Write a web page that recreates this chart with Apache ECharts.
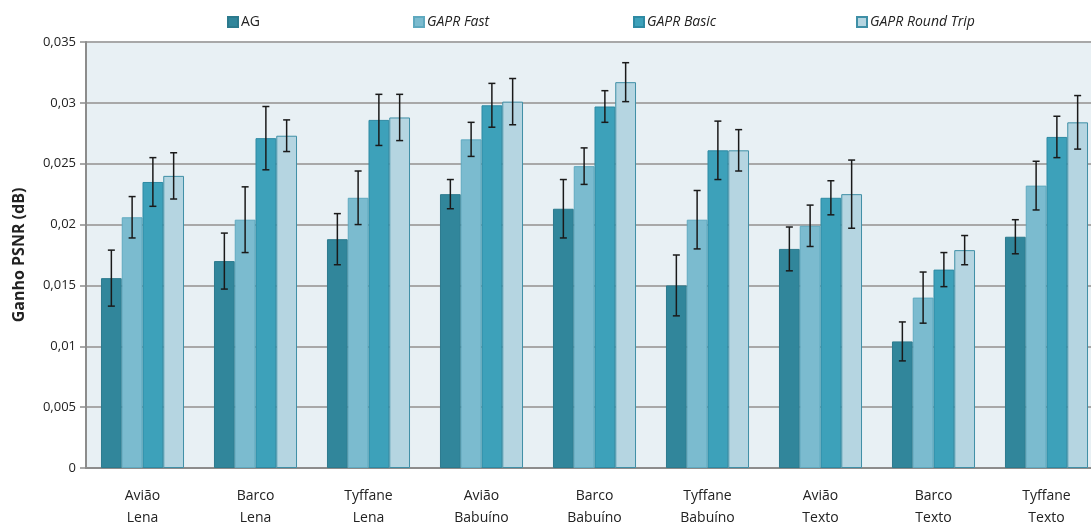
<!DOCTYPE html>
<html><head><meta charset="utf-8">
<script src="https://cdn.jsdelivr.net/npm/echarts@6/dist/echarts.min.js"></script>
<style>html,body{margin:0;padding:0;background:#fff}#c{width:1091px;height:525px}</style>
</head><body><div id="c"></div>
<script>
const categories = ["Avião\nLena","Barco\nLena","Tyffane\nLena","Avião\nBabuíno","Barco\nBabuíno","Tyffane\nBabuíno","Avião\nTexto","Barco\nTexto","Tyffane\nTexto"];
const seriesNames = ["AG","GAPR Fast","GAPR Basic","GAPR Round Trip"];
const agValues    = [0.0156,0.0170,0.0188,0.0225,0.0213,0.0150,0.0180,0.0104,0.0190];
const fastValues  = [0.0206,0.0204,0.0222,0.0270,0.0248,0.0204,0.0199,0.0140,0.0232];
const basicValues = [0.0235,0.0271,0.0286,0.0298,0.0297,0.0261,0.0222,0.0163,0.0272];
const rtValues    = [0.0240,0.0273,0.0288,0.0301,0.0317,0.0261,0.0225,0.0179,0.0284];
const agErr    = [0.0023,0.0023,0.0021,0.0012,0.0024,0.0025,0.0018,0.0016,0.0014];
const fastErr  = [0.0017,0.0027,0.0022,0.0014,0.0015,0.0024,0.0017,0.0021,0.0020];
const basicErr = [0.0020,0.0026,0.0021,0.0018,0.0013,0.0024,0.0014,0.0014,0.0017];
const rtErr    = [0.0019,0.0013,0.0019,0.0019,0.0016,0.0017,0.0028,0.0012,0.0022];
const yTicks = [0,0.005,0.01,0.015,0.02,0.025,0.03,0.035];

const values = [agValues, fastValues, basicValues, rtValues];
const errs = [agErr, fastErr, basicErr, rtErr];
const colors = ['#31869B','#7BBBCF','#3DA1BA','#B5D5E1'];
const borders = ['#2C7A8D','#5FA9BF','#2E8AA3','#3F8FA6'];
const CAT_GAP = 0.265;

const chart = echarts.init(document.getElementById('c'), null, {renderer:'canvas'});
const series = [];
values.forEach((vals, k) => {
  series.push({
    name: seriesNames[k], type: 'bar', data: vals,
    barGap: '0%', barCategoryGap: (CAT_GAP*100)+'%',
    itemStyle: {color: colors[k], borderColor: borders[k], borderWidth: 1},
    z: 2
  });
});
values.forEach((vals, k) => {
  series.push({
    type: 'custom', name: seriesNames[k] + ' err', z: 5, silent: true,
    data: vals.map((v, i) => [i, v - errs[k][i], v + errs[k][i]]),
    renderItem: function (params, api) {
      const i = api.value(0);
      const lo = api.coord([i, api.value(1)]);
      const hi = api.coord([i, api.value(2)]);
      const catW = api.size([1, 0])[0];
      const bw = catW * (1 - CAT_GAP) / 4;
      const x = lo[0] + (k - 1.5) * bw;
      const cap = 3.5;
      const st = {stroke: '#1a1a1a', lineWidth: 1.5};
      return {type: 'group', children: [
        {type: 'line', shape: {x1: x, y1: hi[1], x2: x, y2: lo[1]}, style: st},
        {type: 'line', shape: {x1: x - cap, y1: hi[1], x2: x + cap, y2: hi[1]}, style: st},
        {type: 'line', shape: {x1: x - cap, y1: lo[1], x2: x + cap, y2: lo[1]}, style: st}
      ]};
    }
  });
});

const legendLefts = [222, 408, 628, 851];
const legends = seriesNames.map((n, k) => ({
  data: [n], left: legendLefts[k], top: 10, itemWidth: 10, itemHeight: 10, itemGap: 0,
  icon: 'rect', selectedMode: false,
  textStyle: {fontFamily: 'Open Sans', fontSize: 14, color: '#222', fontStyle: k === 0 ? 'normal' : 'italic', padding: [0,0,0,-2]}
}));

chart.setOption({
  animation: false,
  legend: legends,
  grid: {left: 86, top: 42, width: 1017, height: 426, show: true, backgroundColor: '#E8F0F4', borderWidth: 0,
         containLabel: false, outerBoundsMode: 'none'},
  xAxis: {
    type: 'category', data: categories,
    axisLine: {lineStyle: {color: '#8C8C8C', width: 2}},
    axisTick: {show: false},
    axisLabel: {fontFamily: 'Open Sans', fontSize: 14, color: '#222', lineHeight: 22, margin: 17}
  },
  yAxis: {
    type: 'value', min: yTicks[0], max: yTicks[yTicks.length-1], interval: 0.005,
    name: 'Ganho PSNR (dB)', nameLocation: 'middle', nameGap: 59, nameRotate: 90,
    nameTextStyle: {fontFamily: 'Open Sans', fontSize: 16, fontWeight: 'bold', color: '#222'},
    axisLine: {show: true, lineStyle: {color: '#8C8C8C', width: 2}},
    axisTick: {show: true, length: 6, lineStyle: {color: '#8C8C8C', width: 1.5}},
    splitLine: {lineStyle: {color: '#A8A8A8', width: 2}},
    axisLabel: {fontFamily: 'Open Sans', fontSize: 13, color: '#222', margin: 10,
      formatter: v => String(+v.toFixed(3)).replace('.', ',')}
  },
  series: series
});
</script></body></html>
